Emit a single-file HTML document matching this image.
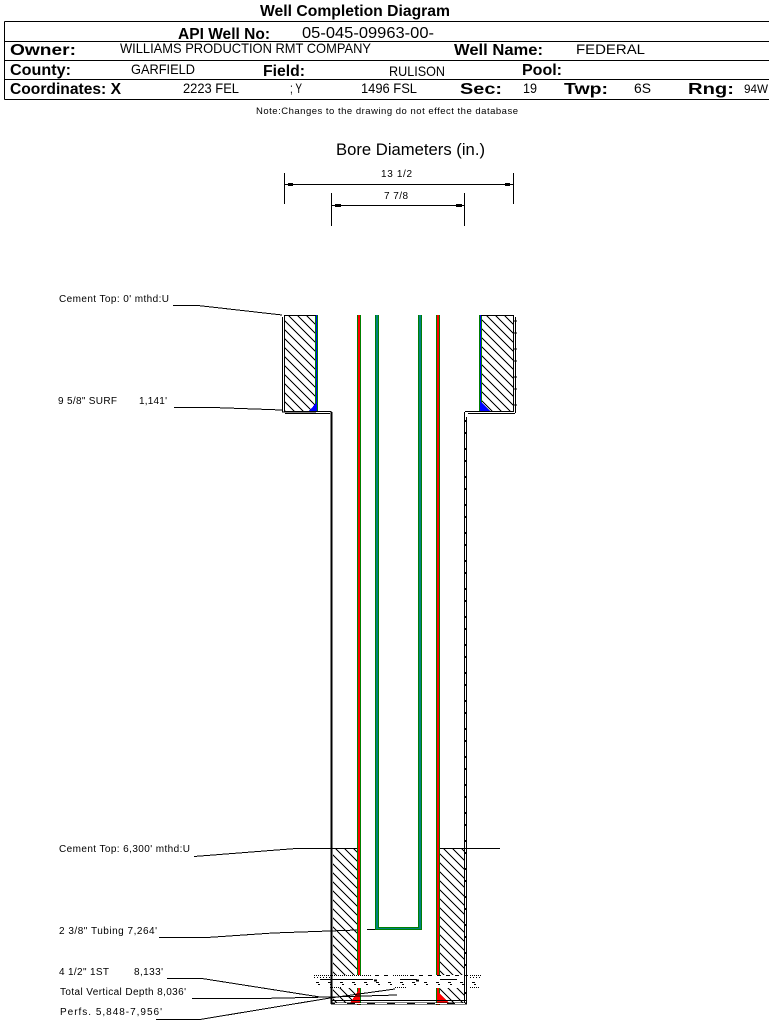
<!DOCTYPE html>
<html><head><meta charset="utf-8"><style>
html,body{margin:0;padding:0;background:#fff;width:769px;height:1020px;overflow:hidden}
svg{display:block}
text{font-family:"Liberation Sans",sans-serif;fill:#000}
.b{font-weight:bold}
</style></head><body>
<svg width="769" height="1020" viewBox="0 0 769 1020" xmlns="http://www.w3.org/2000/svg">
<defs>
<pattern id="h" width="9" height="9" patternUnits="userSpaceOnUse">
<path d="M-1 -1L10 10M-5 4L5 14M4 -5L14 5" stroke="#000" stroke-width="1" fill="none" shape-rendering="crispEdges"/>
</pattern>
</defs>
<rect width="769" height="1020" fill="#fff"/>
<text class="b" x="260" y="16" font-size="16" textLength="190" lengthAdjust="spacingAndGlyphs">Well Completion Diagram</text>
<g stroke="#000" stroke-width="1" shape-rendering="crispEdges">
<path d="M4.5 21.5H769M4.5 41.5H769M4.5 60.5H769M4.5 79.5H769M4.5 99.5H769M4.5 21.5V99.5"/>
</g>
<text class="b" x="178" y="39" font-size="16" textLength="92" lengthAdjust="spacingAndGlyphs">API Well No:</text>
<text x="302" y="38" font-size="16" textLength="132" lengthAdjust="spacingAndGlyphs">05-045-09963-00-</text>
<text class="b" x="10" y="55" font-size="16" textLength="66" lengthAdjust="spacingAndGlyphs">Owner:</text>
<text x="120" y="53" font-size="14" textLength="251" lengthAdjust="spacingAndGlyphs">WILLIAMS PRODUCTION RMT COMPANY</text>
<text class="b" x="454" y="55" font-size="16" textLength="89" lengthAdjust="spacingAndGlyphs">Well Name:</text>
<text x="576" y="54" font-size="14" textLength="69" lengthAdjust="spacingAndGlyphs">FEDERAL</text>
<text class="b" x="10" y="75" font-size="16" textLength="61" lengthAdjust="spacingAndGlyphs">County:</text>
<text x="131" y="74" font-size="14" textLength="64" lengthAdjust="spacingAndGlyphs">GARFIELD</text>
<text class="b" x="263" y="76" font-size="16" textLength="42" lengthAdjust="spacingAndGlyphs">Field:</text>
<text x="389" y="76" font-size="14" textLength="56" lengthAdjust="spacingAndGlyphs">RULISON</text>
<text class="b" x="522" y="75" font-size="16" textLength="40" lengthAdjust="spacingAndGlyphs">Pool:</text>
<text class="b" x="10" y="94" font-size="16" textLength="111" lengthAdjust="spacingAndGlyphs">Coordinates: X</text>
<text x="183" y="93" font-size="14" textLength="56" lengthAdjust="spacingAndGlyphs">2223 FEL</text>
<text x="290" y="93" font-size="14" textLength="12" lengthAdjust="spacingAndGlyphs">; Y</text>
<text x="361" y="93" font-size="14" textLength="56" lengthAdjust="spacingAndGlyphs">1496 FSL</text>
<text class="b" x="460" y="94" font-size="16" textLength="42" lengthAdjust="spacingAndGlyphs">Sec:</text>
<text x="523" y="93" font-size="14" textLength="14" lengthAdjust="spacingAndGlyphs">19</text>
<text class="b" x="564" y="94" font-size="16" textLength="44" lengthAdjust="spacingAndGlyphs">Twp:</text>
<text x="634" y="93" font-size="14" textLength="17" lengthAdjust="spacingAndGlyphs">6S</text>
<text class="b" x="688" y="94" font-size="16" textLength="46" lengthAdjust="spacingAndGlyphs">Rng:</text>
<text x="744" y="93" font-size="12" textLength="24" lengthAdjust="spacingAndGlyphs">94W</text>
<text x="256" y="114" font-size="9.5" textLength="262" lengthAdjust="spacing">Note:Changes to the drawing do not effect the database</text>

<text x="336" y="155" font-size="17" textLength="149" lengthAdjust="spacingAndGlyphs">Bore Diameters (in.)</text>
<text x="381" y="177" font-size="10" textLength="31" lengthAdjust="spacing">13 1/2</text>
<text x="384" y="199" font-size="10" textLength="24" lengthAdjust="spacing">7 7/8</text>
<g stroke="#000" stroke-width="1" fill="none" shape-rendering="crispEdges">
<path d="M284.5 173V204M513.5 173V204M331.5 193V226M464.5 193V226M285 184.5H513M332 205.5H464"/>
</g>
<g fill="#000" shape-rendering="crispEdges">
<rect x="288" y="183" width="5" height="3"/><rect x="505" y="183" width="5" height="3"/><rect x="335" y="204" width="6" height="3"/><rect x="456" y="204" width="6" height="3"/>
</g>

<!-- cement -->
<rect x="285" y="315" width="30" height="96" fill="url(#h)"/>
<rect x="482" y="315" width="31" height="96" fill="url(#h)"/>
<rect x="333" y="849" width="24" height="155" fill="url(#h)"/>
<rect x="440" y="849" width="24" height="155" fill="url(#h)"/>

<g shape-rendering="crispEdges">
<!-- surface casing -->
<rect x="315" y="315" width="3" height="96" fill="#008000"/><rect x="316" y="315" width="1" height="96" fill="#0000ff"/>
<rect x="479" y="315" width="3" height="96" fill="#008000"/><rect x="480" y="315" width="1" height="96" fill="#0000ff"/>
<!-- production casing -->
<rect x="357" y="315" width="4" height="690" fill="#008000"/><rect x="358" y="315" width="2" height="690" fill="#ff0000"/>
<rect x="436" y="315" width="4" height="690" fill="#008000"/><rect x="437" y="315" width="2" height="690" fill="#ff0000"/>
<!-- tubing -->
<path d="M375 315h4v612h39V315h4v615h-47z" fill="#008000"/>
<rect x="376" y="315" width="2" height="614" fill="#008080"/>
<rect x="419" y="315" width="2" height="614" fill="#008080"/>
<rect x="376" y="928" width="45" height="1" fill="#008080"/>
</g>
<path d="M317 411v-9l-8 9zM480 401v10h10z" fill="#0000ff" shape-rendering="crispEdges"/>
<path d="M358 1003v-12l-8 12zM438 992v11h11z" fill="#ff0000" shape-rendering="crispEdges"/>

<!-- bore outline -->
<g stroke="#000" fill="none" shape-rendering="crispEdges">
<path d="M284 315.5H316M481 315.5H513.5V411" stroke-width="1"/>
<path d="M284.5 315V412M282.5 317V412H316" stroke-width="1"/>
<path d="M515.5 317V413" stroke-width="1"/>
<path d="M515.5 320V413" stroke-width="2" stroke-dasharray="2 10 2 14"/>
<path d="M285 411.5H331.5M285 413.5H330M465 411.5H514M468 413.5H515" stroke-width="1"/>
<path d="M331.5 412V1004" stroke-width="2"/>
<path d="M464.5 412V1004M466.5 417V1004" stroke-width="1"/>
<path d="M466 420V1004" stroke-width="2" stroke-dasharray="2 10 2 14"/>
<path d="M331 1000.5H467" stroke-width="1"/>
<path d="M331 1003.5H467" stroke-width="2"/>
<path d="M335 1003.5H465" stroke-width="1" stroke="#fff" stroke-dasharray="12 8"/>
<path d="M296 848.5H357M440 848.5H500" stroke-width="1"/>
</g>

<!-- perforation noise -->
<g shape-rendering="crispEdges">
<rect x="313" y="975" width="170" height="13" fill="#fff"/>
<g stroke="#000" stroke-width="1" fill="none">
<path d="M314 975.5H372M395 975.5H408M470 975.5H482" stroke-dasharray="1 1"/>
<path d="M375 975.5H394M410 975.5H468" stroke-dasharray="4 5"/>
<path d="M314 977.5H330M470 977.5H481" stroke-dasharray="1 2"/>
<path d="M320 979.5H373M400 979.5H417M440 979.5H457"/>
<path d="M374 980.5H377M416 980.5H419" stroke-width="2"/>
<path d="M316 982.5H478" stroke-dasharray="3 9"/>
<path d="M318 984.5H476" stroke-dasharray="2 10"/>
<path d="M330 987.5H341M395 987.5H407M470 987.5H480" stroke-dasharray="1 1"/>
<path d="M331.5 975V988" stroke-width="2"/>
<path d="M464.5 975V988M466.5 975V988"/>
</g>
</g>

<!-- leaders -->
<g stroke="#000" stroke-width="1" fill="none" shape-rendering="crispEdges">
<path d="M173 305.5H198L282 315"/>
<path d="M174 407.5H213L282 410"/>
<path d="M194 856.5L296 848.5"/>
<path d="M159 937.5H207L273 933L357 930M367 929.5H375"/>
<path d="M167 978.5H202L320 997"/>
<path d="M192 998.5H260L330 997L397 995"/>
<path d="M156 1019.5H200L330 998L395 989"/>
</g>

<g font-size="10">
<text x="59" y="302" textLength="110" lengthAdjust="spacing">Cement Top: 0' mthd:U</text>
<text x="58" y="404" textLength="59" lengthAdjust="spacing">9 5/8" SURF</text>
<text x="139" y="404" textLength="28" lengthAdjust="spacing">1,141'</text>
<text x="59" y="852" textLength="131" lengthAdjust="spacing">Cement Top: 6,300' mthd:U</text>
<text x="59" y="934" textLength="98" lengthAdjust="spacing">2 3/8" Tubing 7,264'</text>
<text x="59" y="975" textLength="50" lengthAdjust="spacing">4 1/2" 1ST</text>
<text x="134" y="975" textLength="29" lengthAdjust="spacing">8,133'</text>
<text x="60" y="995" textLength="126" lengthAdjust="spacing">Total Vertical Depth 8,036'</text>
<text x="60" y="1015" textLength="102" lengthAdjust="spacing">Perfs. 5,848-7,956'</text>
</g>
</svg>
</body></html>
